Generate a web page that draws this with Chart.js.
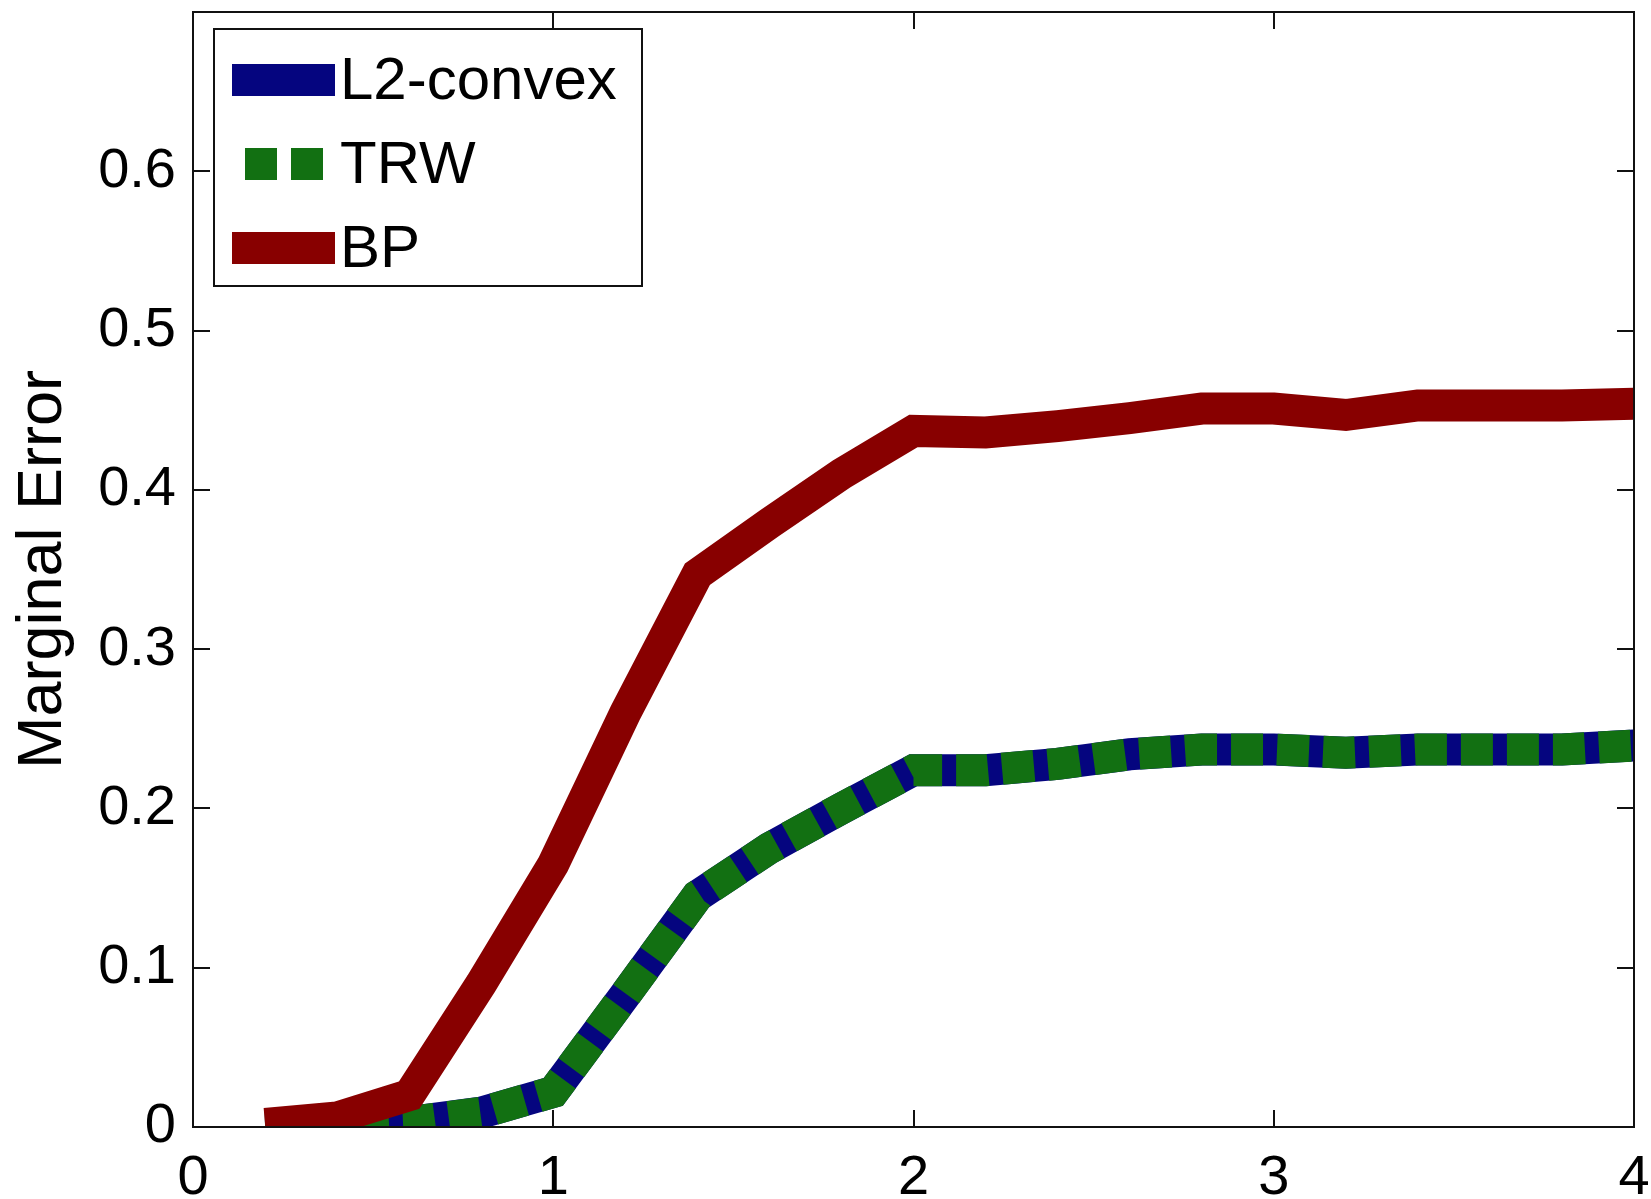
<!DOCTYPE html>
<html>
<head>
<meta charset="utf-8">
<script src="https://cdn.jsdelivr.net/npm/chart.js@4.4.1/dist/chart.umd.min.js"></script>
<style>
  html, body { margin: 0; padding: 0; background: #ffffff; }
  canvas { display: block; }
</style>
</head>
<body>
<canvas id="chart" width="1651" height="1199"></canvas>
<script>
// ---- data ----
const xValues  = [0.2, 0.4, 0.6, 0.8, 1.0, 1.2, 1.4, 1.6, 1.8, 2.0, 2.2, 2.4, 2.6, 2.8, 3.0, 3.2, 3.4, 3.6, 3.8, 4.0];
const l2Convex = [0.000, 0.001, 0.003, 0.009, 0.022, 0.083, 0.145, 0.175, 0.200, 0.224, 0.224, 0.228, 0.234, 0.237, 0.237, 0.235, 0.237, 0.237, 0.237, 0.2395];
const trw      = [0.000, 0.001, 0.003, 0.009, 0.022, 0.083, 0.145, 0.175, 0.200, 0.224, 0.224, 0.228, 0.234, 0.237, 0.237, 0.235, 0.237, 0.237, 0.237, 0.2395];
const bp       = [0.002, 0.006, 0.020, 0.090, 0.165, 0.260, 0.347, 0.379, 0.410, 0.437, 0.436, 0.440, 0.445, 0.451, 0.451, 0.447, 0.453, 0.453, 0.453, 0.454];
const seriesNames = ['L2-convex', 'TRW', 'BP'];
const xTicks = [0, 1, 2, 3, 4];
const xTickLabels = ['0', '1', '2', '3', '4'];
const yTicks = [0, 0.1, 0.2, 0.3, 0.4, 0.5, 0.6];
const yTickLabels = ['0', '0.1', '0.2', '0.3', '0.4', '0.5', '0.6'];
const yTitle = 'Marginal Error';

// ---- styles ----
const FONT = '"Liberation Sans", Arial, Helvetica, sans-serif';
const COLORS = { l2: '#05057f', trw: '#127012', bp: '#880000' };
const LINE_W = 32;

const toPoints = ys => xValues.map((x, i) => ({ x: x, y: ys[i] }));

const boxPlugin = {
  id: 'matlabBox',
  afterDatasetsDraw(chart) {
    const { ctx, chartArea: a, scales } = chart;
    const xs = scales.x, ys = scales.y;
    const tl = 17;
    ctx.save();
    ctx.strokeStyle = '#111111';
    ctx.lineWidth = 2;
    ctx.strokeRect(a.left, a.top, a.right - a.left, a.bottom - a.top);
    ctx.beginPath();
    xs.ticks.forEach(t => {
      const px = Math.round(xs.getPixelForValue(t.value));
      ctx.moveTo(px, a.bottom); ctx.lineTo(px, a.bottom - tl);
      ctx.moveTo(px, a.top); ctx.lineTo(px, a.top + tl);
    });
    ys.ticks.forEach(t => {
      const py = Math.round(ys.getPixelForValue(t.value));
      ctx.moveTo(a.left, py); ctx.lineTo(a.left + tl, py);
      ctx.moveTo(a.right, py); ctx.lineTo(a.right - tl, py);
    });
    ctx.stroke();
    ctx.restore();
  }
};

const legendPlugin = {
  id: 'matlabLegend',
  afterDraw(chart) {
    const { ctx, chartArea: a } = chart;
    const bx = a.left + 21, by = a.top + 17, bw = 428, bh = 257;
    ctx.save();
    ctx.fillStyle = '#ffffff';
    ctx.fillRect(bx, by, bw, bh);
    ctx.strokeStyle = '#111111';
    ctx.lineWidth = 2;
    ctx.strokeRect(bx, by, bw, bh);
    const rowY = [by + 51, by + 135, by + 219];
    chart.data.datasets.forEach((ds, i) => {
      const y = rowY[i];
      const dashed = ds.borderDash && ds.borderDash.length;
      ctx.save();
      ctx.strokeStyle = ds.borderColor;
      ctx.lineWidth = ds.borderWidth;
      ctx.lineCap = 'butt';
      if (dashed) {
        ctx.setLineDash(ds.borderDash);
        ctx.lineDashOffset = 33;
      }
      ctx.beginPath();
      ctx.moveTo(bx + 18, y);
      ctx.lineTo(bx + (dashed ? 112 : 121), y);
      ctx.stroke();
      ctx.restore();
      ctx.fillStyle = '#000000';
      ctx.font = '60px ' + FONT;
      ctx.textAlign = 'left';
      ctx.textBaseline = 'middle';
      ctx.fillText(ds.label, bx + 126, y + 2);
    });
    ctx.restore();
  }
};

const baseDs = {
  borderWidth: LINE_W,
  pointRadius: 0,
  pointHoverRadius: 0,
  borderCapStyle: 'butt',
  borderJoinStyle: 'miter',
  tension: 0,
  fill: false,
  clip: 0
};

new Chart(document.getElementById('chart'), {
  type: 'line',
  data: {
    datasets: [
      Object.assign({}, baseDs, { label: seriesNames[0], data: toPoints(l2Convex), borderColor: COLORS.l2, order: 3 }),
      Object.assign({}, baseDs, { label: seriesNames[1], data: toPoints(trw), borderColor: COLORS.trw, borderDash: [32, 14], order: 2 }),
      Object.assign({}, baseDs, { label: seriesNames[2], data: toPoints(bp), borderColor: COLORS.bp, order: 1 })
    ]
  },
  options: {
    responsive: false,
    animation: false,
    devicePixelRatio: 1,
    layout: { padding: { left: 0, right: 17, top: 12, bottom: 0 } },
    plugins: { legend: { display: false }, tooltip: { enabled: false } },
    scales: {
      x: {
        type: 'linear', min: 0, max: 4, position: 'bottom',
        afterBuildTicks: s => { s.ticks = xTicks.map(v => ({ value: v })); },
        afterFit: s => { s.height = 72; s.paddingLeft = 0; s.paddingRight = 0; },
        grid: { display: false, drawTicks: false },
        border: { display: false },
        ticks: {
          font: { family: FONT, size: 56 }, color: '#000000', padding: 18,
          maxRotation: 0, autoSkip: false,
          callback: v => xTickLabels[xTicks.indexOf(v)]
        }
      },
      y: {
        type: 'linear', min: 0, max: 0.7,
        afterBuildTicks: s => { s.ticks = yTicks.map(v => ({ value: v })); },
        afterFit: s => { s.width = 193; s.paddingTop = 0; s.paddingBottom = 0; },
        grid: { display: false, drawTicks: false },
        border: { display: false },
        ticks: {
          font: { family: FONT, size: 56 }, color: '#000000', padding: 17, autoSkip: false,
          callback: v => { const k = yTicks.findIndex(t => Math.abs(t - v) < 1e-9); return k >= 0 ? yTickLabels[k] : ''; }
        },
        title: {
          display: true, text: yTitle, color: '#000000',
          font: { family: FONT, size: 63 }, padding: { top: 6, bottom: 0 }
        }
      }
    }
  },
  plugins: [boxPlugin, legendPlugin]
});
</script>
</body>
</html>
